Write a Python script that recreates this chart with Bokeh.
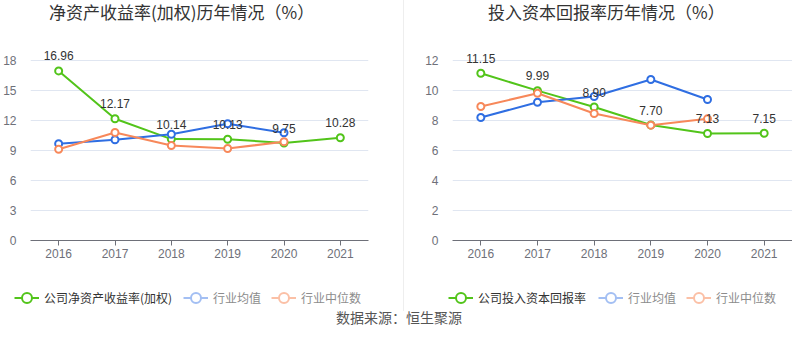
from bokeh.plotting import figure
from bokeh.models import (ColumnDataSource, FactorRange, Range1d, FixedTicker,
                          Legend, LegendItem, Div)
from bokeh.layouts import row, column
from bokeh.embed import file_html
from bokeh.resources import INLINE
from bokeh.core.properties import value

years = ["2016", "2017", "2018", "2019", "2020", "2021"]
years_ind = ["2016", "2017", "2018", "2019", "2020"]

roe_company = [16.96, 12.17, 10.14, 10.13, 9.75, 10.28]
roe_mean = [9.67, 10.07, 10.63, 11.67, 10.77]
roe_median = [9.13, 10.80, 9.50, 9.20, 9.87]

roic_company = [11.15, 9.99, 8.90, 7.70, 7.13, 7.15]
roic_mean = [8.20, 9.22, 9.60, 10.73, 9.40]
roic_median = [8.93, 9.82, 8.47, 7.69, 8.11]

roe_ticks = [0, 3, 6, 9, 12, 15, 18]
roic_ticks = [0, 2, 4, 6, 8, 10, 12]

GREEN = "#52c41a"
BLUE = "#2f6ee2"
ORANGE = "#f7885a"
BLUE_PALE = "#a3bff3"
ORANGE_PALE = "#fbc0a6"
CJK = "Noto Sans CJK SC"
LAT = "Liberation Sans"
NAN = float("nan")


def make_title(text, width, pad_left):
    return Div(text=text, width=width, height=25, margin=0,
               styles={"font-size": "17px", "color": "#333333",
                       "font-family": CJK, "line-height": "24px",
                       "text-indent": "%dpx" % pad_left,
                       "white-space": "nowrap", "margin": "0"})


def make_panel(company, mean, median, ticks, ymax,
               width, border_left, border_right):
    p = figure(x_range=FactorRange(factors=years), y_range=Range1d(0, ymax),
               width=width, height=258, output_backend="svg",
               toolbar_location=None, min_border_left=border_left,
               min_border_right=border_right, min_border_top=20,
               min_border_bottom=43)
    p.outline_line_color = None
    p.background_fill_color = "white"
    p.border_fill_color = "white"

    p.xgrid.grid_line_color = None
    p.ygrid.grid_line_color = "#e0e6f1"
    p.ygrid.ticker = FixedTicker(ticks=ticks)
    p.yaxis.ticker = FixedTicker(ticks=ticks)
    p.yaxis.axis_line_color = None
    p.yaxis.major_tick_line_color = None
    p.yaxis.minor_tick_line_color = None
    p.yaxis.major_label_standoff = 8
    p.yaxis.major_label_text_font_size = "12px"
    p.yaxis.major_label_text_color = "#6e7079"
    p.yaxis.major_label_text_font = LAT

    p.xaxis.axis_line_color = "#6e7079"
    p.xaxis.major_tick_line_color = "#6e7079"
    p.xaxis.major_tick_out = 5
    p.xaxis.major_tick_in = 0
    p.xaxis.major_label_standoff = 3
    p.xaxis.major_label_text_font_size = "12px"
    p.xaxis.major_label_text_color = "#6e7079"
    p.xaxis.major_label_text_font = LAT

    src_c = ColumnDataSource(dict(x=years, y=company,
                                  lab=["%.2f" % v for v in company]))
    src_m = ColumnDataSource(dict(x=years_ind, y=mean))
    src_d = ColumnDataSource(dict(x=years_ind, y=median))

    for src, col in ((src_c, GREEN), (src_m, BLUE), (src_d, ORANGE)):
        p.line("x", "y", source=src, line_color=col, line_width=2)
        p.scatter("x", "y", source=src, size=7, marker="circle",
                  fill_color="white", line_color=col, line_width=2)

    p.text("x", "y", text="lab", source=src_c, y_offset=-15,
           text_align="center", text_baseline="middle",
           text_font_size="12px", text_color="#333333",
           text_font=value(LAT))
    return p


def make_legend(width, comp_label, leg_x_company, leg_x_ind):
    q = figure(x_range=Range1d(0, 1), y_range=Range1d(0, 1), width=width,
               height=30, output_backend="svg", toolbar_location=None,
               x_axis_location=None, y_axis_location=None,
               min_border=0, min_border_left=0, min_border_right=0,
               min_border_top=0, min_border_bottom=0)
    if "frame_align" in q.properties():
        q.frame_align = False
    q.outline_line_color = None
    q.grid.visible = False
    items_c = []
    items_i = []
    for col, lab, target in ((GREEN, comp_label, items_c),
                             (BLUE_PALE, "行业均值", items_i),
                             (ORANGE_PALE, "行业中位数", items_i)):
        s = ColumnDataSource(dict(x=[NAN], y=[NAN]))
        r1 = q.line("x", "y", source=s, line_color=col, line_width=2)
        r2 = q.scatter("x", "y", source=s, marker="circle",
                       fill_color="white", line_color=col, line_width=2)
        target.append(LegendItem(label=lab, renderers=[r1, r2]))
    for items, lx, tcol in ((items_c, leg_x_company, "#333333"),
                            (items_i, leg_x_ind, "#8c8c8c")):
        lg = Legend(items=items, location=(lx, 2), orientation="horizontal",
                    padding=0, margin=0, spacing=10, label_standoff=5,
                    glyph_width=25, glyph_height=27, label_height=16,
                    border_line_alpha=0, background_fill_alpha=0,
                    label_text_font=CJK, label_text_font_size="12px",
                    label_text_color=tcol)
        q.add_layout(lg, "center")
    return q


left_title = make_title("净资产收益率(加权)历年情况（%）", 403, 49)
right_title = make_title("投入资本回报率历年情况（%）", 388, 84)
left = make_panel(roe_company, roe_mean, roe_median, roe_ticks, 19.5,
                  403, 29, 35)
right = make_panel(roic_company, roic_mean, roic_median, roic_ticks, 13,
                   388, 48, 0)
left_leg = make_legend(403, "公司净资产收益率(加权)", 14, 183)
right_leg = make_legend(388, "公司投入资本回报率", 44, 194)

divider = Div(width=1, height=311, margin=0,
              styles={"background-color": "#eeeeee", "margin": "0"})
source = Div(text="数据来源：恒生聚源", width=798, height=22, margin=0,
             styles={"text-align": "center", "font-size": "14px",
                     "color": "#555555", "font-family": CJK,
                     "line-height": "8px", "margin": "0"})

layout = column(row(column(left_title, left, left_leg), divider,
                    column(right_title, right, right_leg)),
                source)
open("out.html", "w").write(file_html(layout, INLINE))
